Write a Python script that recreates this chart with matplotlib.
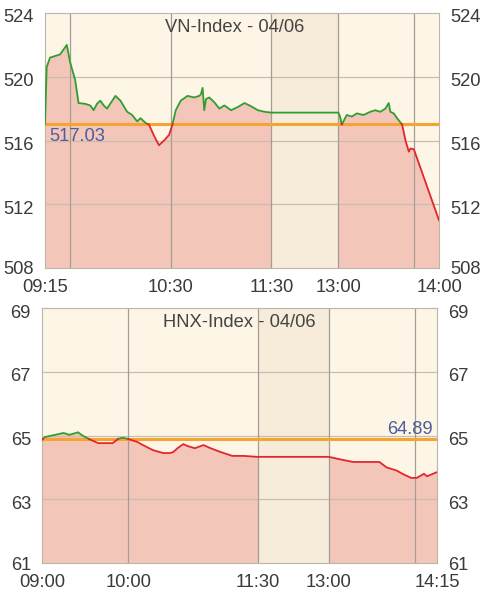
import numpy as np
import matplotlib
matplotlib.use('Agg')
import matplotlib.pyplot as plt
import matplotlib.transforms as mtransforms

plt.rcParams['font.family'] = ['Liberation Sans', 'DejaVu Sans']

# ---------------- VN-Index data ----------------
vn_title = "VN-Index - 04/06"
vn_ref = 517.03
vn_times = ["09:15", "09:16", "09:18", "09:21", "09:24", "09:26", "09:28", "09:30", "09:33",
            "09:35", "09:39", "09:42", "09:44", "09:46", "09:48", "09:50", "09:52", "09:57",
            "10:00", "10:04", "10:07", "10:10", "10:12", "10:15", "10:17", "10:20", "10:23",
            "10:26", "10:29", "10:31", "10:33", "10:36", "10:40", "10:44", "10:47", "10:48",
            "10:49", "10:50", "10:51", "10:53", "10:56", "10:59", "11:02", "11:06", "11:10",
            "11:14", "11:17", "11:22", "11:26", "11:30",
            "13:00", "13:01", "13:02", "13:05", "13:08", "13:11", "13:15", "13:19", "13:22",
            "13:25", "13:28", "13:30", "13:31", "13:33", "13:35", "13:38", "13:40", "13:42",
            "13:43", "13:45", "14:00"]
vn_values = [517.03, 520.6, 521.2, 521.3, 521.4, 521.7, 522.0, 520.9, 519.8,
             518.35, 518.3, 518.2, 517.9, 518.3, 518.5, 518.2, 518.0, 518.8,
             518.5, 517.8, 517.6, 517.2, 517.4, 517.1, 517.0, 516.3, 515.7,
             516.0, 516.35, 517.0, 517.9, 518.5, 518.8, 518.7, 518.8, 518.9,
             519.3, 517.9, 518.6, 518.7, 518.4, 518.0, 518.2, 517.9, 518.1,
             518.35, 518.2, 517.9, 517.8, 517.75,
             517.75, 517.5, 517.0, 517.6, 517.5, 517.7, 517.6, 517.8, 517.9,
             517.8, 518.0, 518.35, 517.8, 517.7, 517.4, 517.0, 516.0, 515.3,
             515.5, 515.45, 511.0]
vn_yticks = [508, 512, 516, 520, 524]
vn_xlabels = ["09:15", "10:30", "11:30", "13:00", "14:00"]
vn_xgrid = ["09:30", "10:30", "11:30", "13:00", "13:45"]

# ---------------- HNX-Index data ----------------
hnx_title = "HNX-Index - 04/06"
hnx_ref = 64.89
hnx_times = ["09:00", "09:02", "09:07", "09:15", "09:19", "09:25", "09:28", "09:33", "09:39",
             "09:44", "09:49", "09:53", "09:56", "09:59", "10:06", "10:10", "10:17", "10:24",
             "10:29", "10:31", "10:34", "10:38", "10:41", "10:46", "10:52", "10:57", "11:04",
             "11:12", "11:20", "11:29", "11:30",
             "13:00", "13:10", "13:17", "13:26", "13:35", "13:40", "13:47", "13:51", "13:57",
             "14:01", "14:06", "14:08", "14:15"]
hnx_values = [64.86, 64.95, 65.0, 65.08, 65.02, 65.1, 65.0, 64.88, 64.76,
              64.76, 64.76, 64.9, 64.93, 64.9, 64.8, 64.7, 64.54, 64.45,
              64.45, 64.48, 64.6, 64.73, 64.67, 64.6, 64.7, 64.6, 64.48,
              64.36, 64.36, 64.33, 64.33,
              64.33, 64.23, 64.17, 64.17, 64.17, 64.0, 63.9, 63.8, 63.67,
              63.67, 63.8, 63.72, 63.85]
hnx_yticks = [61, 63, 65, 67, 69]
hnx_xlabels = ["09:00", "10:00", "11:30", "13:00", "14:15"]
hnx_xgrid = ["10:00", "11:30", "13:00", "14:00"]

# ---------------- styles ----------------
BG = '#fdf5e6'
LUNCH = '#f7ebd9'
FILL = '#f4c6ba'
GREEN = '#2f9e2f'
RED = '#e3262b'
ORANGE = '#f5a432'
VGRID = '#a39d94'
HGRID = '#c8beb0'
TXT = '#3a3a3a'
REFTXT = '#4e5d9c'
FS = 13.2


def to_min(t):
    h, m = t.split(':')
    return int(h) * 60 + int(m)


def make_mapper(start, lunch_w):
    s = to_min(start)
    a, b = to_min("11:30"), to_min("13:00")

    def f(t):
        m = to_min(t)
        if m <= a:
            return m - s
        if m >= b:
            return (a - s) + lunch_w + (m - b)
        return (a - s) + lunch_w * (m - a) / (b - a)
    return f


def draw(fig, ax, title, times, values, ref, yticks, xlabels, xgrid, start, end,
         lunch_w, title_x, ref_label_pos):
    f = make_mapper(start, lunch_w)
    pos = np.array([f(t) for t in times], dtype=float)
    vals = np.array(values, dtype=float)
    xs, ys = [pos[0]], [vals[0]]
    for i in range(1, len(pos)):
        y0, y1 = vals[i - 1], vals[i]
        if (y0 - ref) * (y1 - ref) < 0:
            t = (ref - y0) / (y1 - y0)
            xs.append(pos[i - 1] + t * (pos[i] - pos[i - 1]))
            ys.append(ref)
        xs.append(pos[i])
        ys.append(vals[i])
    xs, ys = np.array(xs), np.array(ys)

    ymin, ymax = yticks[0], yticks[-1]
    xmin, xmax = f(start), f(end)
    ax.set_facecolor(BG)
    ax.set_xlim(xmin, xmax)
    ax.set_ylim(ymin, ymax)

    ax.fill_between(xs, ymin, ys, color=FILL, lw=0, zorder=1)
    ax.axvspan(f("11:30"), f("13:00"), color=LUNCH, lw=0, zorder=1.5)

    for yv in yticks[1:-1]:
        ax.axhline(yv, color=HGRID, lw=0.9, zorder=2)
    for tv in xgrid:
        ax.axvline(f(tv), color=VGRID, lw=0.9, zorder=2)

    ax.axhline(ref, color=ORANGE, lw=2.2, zorder=3)

    green = np.where(ys >= ref, ys, np.nan)
    red = np.where(ys <= ref, ys, np.nan)
    ax.plot(xs, green, color=GREEN, lw=1.3, zorder=4, solid_joinstyle='round')
    ax.plot(xs, red, color=RED, lw=1.3, zorder=4, solid_joinstyle='round')

    ax.set_yticks(yticks)
    ax.set_yticklabels([str(v) for v in yticks])
    ax.set_xticks([f(t) for t in xlabels])
    ax.set_xticklabels(xlabels)
    ax.tick_params(axis='y', which='both', length=0, labelleft=True,
                   labelright=True, labelsize=FS, labelcolor=TXT, pad=8)
    ax.tick_params(axis='x', which='both', length=0, labelsize=FS,
                   labelcolor=TXT, pad=8)
    shift = mtransforms.ScaledTranslation(0, -3 / 100, fig.dpi_scale_trans)
    for i, tick in enumerate(ax.yaxis.get_major_ticks()):
        if i == 0:
            continue
        tick.label1.set_transform(tick.label1.get_transform() + shift)
        tick.label2.set_transform(tick.label2.get_transform() + shift)
    for sp in ax.spines.values():
        sp.set_color('#bdb5a8')
        sp.set_linewidth(0.8)

    ax.text(title_x, 0.945, title, transform=ax.transAxes, ha='center',
            va='center', fontsize=FS, color='#444444', zorder=5)

    lx, lha, dy, lva = ref_label_pos
    off = mtransforms.ScaledTranslation(0, dy / 100, fig.dpi_scale_trans)
    ax.text(lx, ref, f"{ref:.2f}", transform=ax.get_yaxis_transform() + off,
            ha=lha, va=lva, fontsize=FS, color=REFTXT, zorder=5)
    return ax


fig = plt.figure(figsize=(4.91, 6.00), dpi=100)
fig.patch.set_facecolor('white')

ax1 = fig.add_axes([45 / 491, 1 - 268 / 600, 394 / 491, 255 / 600])
ax2 = fig.add_axes([42 / 491, 1 - 563 / 600, 395 / 491, 255 / 600])

draw(fig, ax1, vn_title, vn_times, vn_values, vn_ref, vn_yticks, vn_xlabels,
     vn_xgrid, "09:15", "14:00", 40, 0.482, (0.012, 'left', -4, 'top'))
draw(fig, ax2, hnx_title, hnx_times, hnx_values, hnx_ref, hnx_yticks, hnx_xlabels,
     hnx_xgrid, "09:00", "14:15", 49, 0.499, (0.988, 'right', 1, 'bottom'))

fig.savefig('out.png', dpi=100)
